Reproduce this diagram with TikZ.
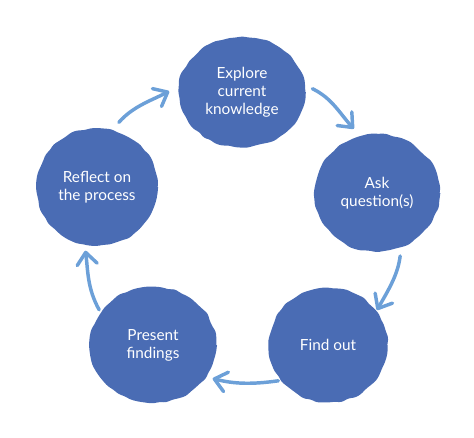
\documentclass[tikz,border=0pt]{standalone}
\usepackage{fontspec}
\setmainfont{Lato}
\usetikzlibrary{shapes.geometric,arrows.meta,decorations.pathmorphing}

\definecolor{blobblue}{RGB}{74,108,180}
\definecolor{arrowblue}{RGB}{108,160,216}

\tikzset{
  blob/.style={ellipse, fill=blobblue, text=white, inner sep=0pt, align=center,
    font=\fontsize{11.5}{13.5}\selectfont,
    decorate, decoration={random steps, segment length=5pt, amplitude=0.8pt},
    rounded corners=2pt},
  flow/.style={draw=arrowblue, line width=2.6pt, line cap=round,
    -{Straight Barb[length=9pt,width=15pt,round]}},
}

\begin{document}
\pgfmathsetseed{7}
\begin{tikzpicture}[x=0.75pt,y=-0.75pt]
    \useasboundingbox (0,0) rectangle (474,438);

    % Steps
    \node[blob, minimum width=95pt, minimum height=83pt] (explore) at (242,92) {Explore\\current\\knowledge};
    \node[blob, minimum width=94pt, minimum height=88pt] (ask) at (377,193) {Ask\\question(s)};
    \node[blob, minimum width=89pt, minimum height=86pt] (find) at (328,345) {Find out};
    \node[blob, minimum width=95pt, minimum height=87pt] (present) at (153,345) {Present\\findings};
    \node[blob, minimum width=91pt, minimum height=88pt] (reflect) at (97,187) {Reflect on\\the process};

    % Cycle
    \draw[flow, shorten <=6pt, shorten >=7.5pt] (explore.6) to[out=-25, in=133] (ask.106);
    \draw[flow, shorten <=6.5pt, shorten >=1pt] (ask.-66) to[out=-97, in=60] (find.35);
    \draw[flow, shorten <=2pt, shorten >=5pt] (find.-143) to[out=-172, in=-14] (present.-31);
    \draw[flow, shorten <=2pt, shorten >=4.5pt] (present.148) to[out=119, in=-83] (reflect.-102);
    \draw[flow, shorten <=7.5pt, shorten >=8pt] (reflect.75) to[out=49, in=-153] (explore.175);
\end{tikzpicture}
\end{document}
